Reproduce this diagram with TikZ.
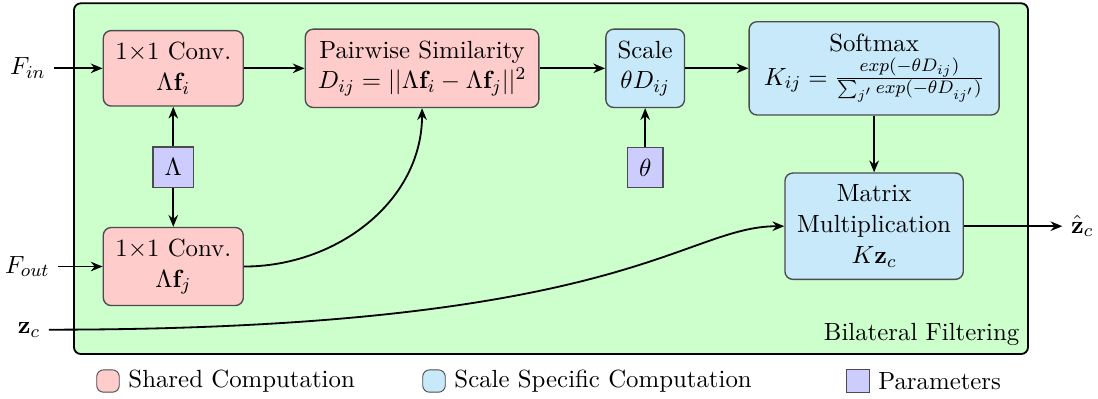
\documentclass[tikz,border=0pt,11pt]{standalone}
\usepackage{amsmath}
\usetikzlibrary{arrows.meta, positioning}
\definecolor{ScaleBlue}{RGB}{199,233,250}
\colorlet{SharedFill}{red!20}
\colorlet{SpecificFill}{ScaleBlue}
\colorlet{ParamFill}{blue!20}
\colorlet{FrameFill}{green!20}
\colorlet{BoxLine}{black!70}

\begin{document}
\begin{tikzpicture}[
    block/.style={
        rectangle, rounded corners=3.5pt, draw=BoxLine, line width=0.6pt,
        fill=#1, align=center, inner sep=2pt
    },
    block/.default={SharedFill},
    param/.style={
        rectangle, draw=BoxLine, line width=0.6pt, fill=ParamFill,
        minimum height=0.625cm, inner sep=1pt
    },
    swatch/.style={
        rectangle, draw=BoxLine, fill=#1, rounded corners=3pt,
        minimum width=0.35cm, minimum height=0.346cm, inner sep=0pt
    },
    arr/.style={-{Stealth[length=5.2pt, width=4.2pt]}, thick},
    frame/.style={draw, thick, fill=FrameFill, rounded corners=3pt}
]

\useasboundingbox (0,0) rectangle (17.019,-6.169);

% ===================================================================
% FRAME
% ===================================================================
\coordinate (frameNW) at (1.147,-0.051);
\coordinate (frameSE) at (15.934,-5.487);
\draw[frame] (frameNW) rectangle (frameSE);
\node[anchor=south east] (bflabel) at (frameSE) {Bilateral Filtering};

% ===================================================================
% SHARED COMPUTATION
% ===================================================================
\node[block, minimum width=2.17cm, minimum height=1.17cm] (convi)
    at (2.686,-1.059)
    {$1{\times}1$ Conv.\\ $\Lambda\mathbf{f}_i$};

\node[param, minimum width=0.63cm, below=0.615cm of convi] (lambda)
    {$\Lambda$};

\node[block, minimum width=2.17cm, minimum height=1.21cm,
      below=0.60cm of lambda] (convj)
    {$1{\times}1$ Conv.\\ $\Lambda\mathbf{f}_j$};

\node[block, minimum width=3.62cm, minimum height=1.214cm,
      right=0.94cm of convi] (pairwise)
    {Pairwise Similarity\\
     $D_{ij} = ||\Lambda\mathbf{f}_i - \Lambda\mathbf{f}_j||^2$};

% ===================================================================
% SCALE SPECIFIC COMPUTATION
% ===================================================================
\node[block=SpecificFill, minimum width=1.22cm, minimum height=1.214cm,
      right=1.017cm of pairwise] (scale)
    {Scale\\ $\theta D_{ij}$};

\node[param, minimum width=0.547cm, below=0.595cm of scale] (theta)
    {$\theta$};

\node[block=SpecificFill, minimum width=3.875cm, minimum height=1.446cm,
      right=0.98cm of scale] (softmax)
    {Softmax\\[1pt]
     $K_{ij} = \frac{exp(-\theta D_{ij})}{\sum_{j'} exp(-\theta D_{ij'})}$};

\node[block=SpecificFill, minimum width=2.764cm, minimum height=1.648cm,
      below=0.879cm of softmax] (matmul)
    {Matrix\\ Multiplication\\ $K\mathbf{z}_c$};

% ===================================================================
% INPUTS / OUTPUT
% ===================================================================
\node[left=0.75cm of convi] (fin) {$F_{in}$};
\node[left=0.687cm of convj] (fout) {$F_{out}$};
\node (zc) at (0.45,-5.11) {$\mathbf{z}_c$};
\node[right=1.525cm of matmul] (zhat) {$\hat{\mathbf{z}}_c$};

% ===================================================================
% ARROWS
% ===================================================================
\draw[arr] (fin) -- (convi);
\draw[arr] (fout) -- (convj);
\draw[arr] (lambda) -- (convi);
\draw[arr] (lambda) -- (convj);
\draw[arr] (convi) -- (pairwise);
\draw[arr] (convj.east) to[out=0, in=-90] (pairwise.south);
\draw[arr] (pairwise) -- (scale);
\draw[arr] (theta) -- (scale);
\draw[arr] (scale) -- (softmax);
\draw[arr] (softmax) -- (matmul);
\draw[arr] (zc.east) to[out=0, in=180, out distance=8.96cm,
    in distance=1.57cm] (matmul.west);
\draw[arr] (matmul) -- (zhat);

% ===================================================================
% LEGEND
% ===================================================================
\node[swatch=SharedFill] (lgshared) at (1.674,-5.906) {};
\node[right=0pt of lgshared] (lgsharedtxt) {Shared Computation};
\node[swatch=SpecificFill] (lgspecific) at (6.727,-5.906) {};
\node[right=0pt of lgspecific] (lgspecifictxt) {Scale Specific Computation};
\node[swatch=ParamFill, rounded corners=0pt] (lgparam) at (13.296,-5.906) {};
\node[right=0pt of lgparam] (lgparamtxt) {Parameters};

\end{tikzpicture}
\end{document}
